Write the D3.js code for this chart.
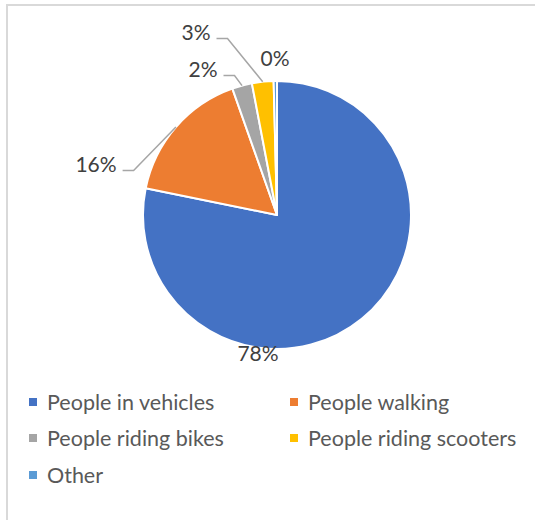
<!DOCTYPE html>
<html><head><meta charset="utf-8">
<script src="https://cdn.jsdelivr.net/npm/d3@7"></script>
<style>html,body{margin:0;padding:0;background:#fff}svg{display:block}</style>
</head><body>
<svg id="chart" width="535" height="520"></svg>
<script>
const categories = ["People in vehicles","People walking","People riding bikes","People riding scooters","Other"];
const values = [78.2, 16.4, 2.4, 2.6, 0.4];
const labels = ["78%","16%","2%","3%","0%"];
const colors = ["#4472C4","#ED7D31","#A5A5A5","#FFC000","#5B9BD5"];

const svg = d3.select("#chart");
const font = "Lato, 'Open Sans', sans-serif";

// chart border
svg.append("path").attr("d","M7,520 V5 H535").attr("fill","none").attr("stroke","#d9d9d9").attr("stroke-width",2);

const cx = 277, cy = 215, R = 134;
const data = categories.map((c,i)=>({cat:c, value:values[i], label:labels[i], color:colors[i]}));
const pie = d3.pie().sort(null).value(d=>d.value);
const arcs = pie(data);
const arc = d3.arc().innerRadius(0).outerRadius(R);

const g = svg.append("g").attr("transform",`translate(${cx},${cy})`);
g.selectAll("path.slice").data(arcs).join("path")
  .attr("class","slice")
  .attr("d",arc)
  .attr("fill",d=>d.data.color)
  .attr("stroke","#fff").attr("stroke-width",2).attr("stroke-linejoin","round");

// label placement (best-fit style, absolute page coords of label centers)
const labelPos = [[258,352],[96,163],[203,68],[196,31],[275,57]];
const leader = [false,true,true,true,false];
const fs = 21;

arcs.forEach((a,i)=>{
  const [lx,ly] = labelPos[i];
  const t = svg.append("text").attr("x",lx).attr("y",ly).attr("text-anchor","middle")
    .attr("dominant-baseline","central")
    .style("font-family",font).style("font-size",fs+"px").style("fill","#404040")
    .text(a.data.label);
  if (leader[i]) {
    const bb = t.node().getBBox();
    const mid = (a.startAngle + a.endAngle)/2;
    const ex = cx + R*Math.sin(mid), ey = cy - R*Math.cos(mid);
    const sx = bb.x + bb.width + 6, sy = ly + 7.5;
    svg.append("polyline")
      .attr("points",`${sx},${sy} ${sx+11},${sy} ${ex},${ey}`)
      .attr("fill","none").attr("stroke","#a6a6a6").attr("stroke-width",1.5);
  }
});

// legend
const legX = [29, 290], legY = [402, 438, 475];
data.forEach((d,i)=>{
  const x = legX[i%2], y = legY[Math.floor(i/2)];
  svg.append("rect").attr("x",x).attr("y",y-4).attr("width",8).attr("height",8).attr("fill",d.color);
  svg.append("text").attr("x",x+18).attr("y",y).attr("dominant-baseline","central")
    .style("font-family",font).style("font-size","21.5px").style("fill","#595959").text(d.cat);
});
</script>
</body></html>
